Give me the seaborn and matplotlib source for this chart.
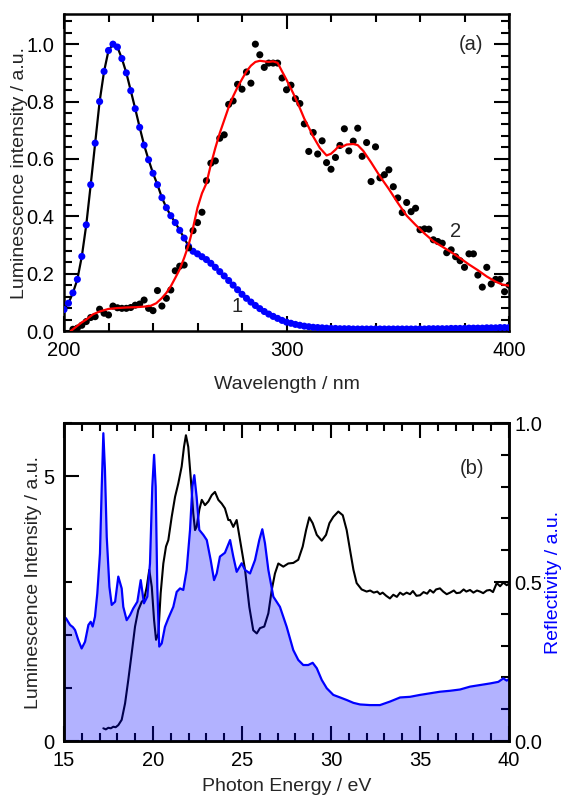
import matplotlib
matplotlib.use('Agg')
import matplotlib.pyplot as plt
from matplotlib.ticker import MultipleLocator, FormatStrFormatter
import seaborn as sns

# ---- panel (a): luminescence vs wavelength ----
wl = [200, 202, 204, 206, 208, 210, 212, 214, 216, 218,
      220, 222, 224, 226, 228, 230, 232, 234, 236, 238,
      240, 242, 244, 246, 248, 250, 252, 254, 256, 258,
      260, 262, 264, 266, 268, 270, 272, 274, 276, 278,
      280, 282, 284, 286, 288, 290, 292, 294, 296, 298,
      300, 302, 304, 306, 308, 310, 312, 314, 316, 318,
      320, 322, 324, 326, 328, 330, 332, 334, 336, 338,
      340, 342, 344, 346, 348, 350, 352, 354, 356, 358,
      360, 362, 364, 366, 368, 370, 372, 374, 376, 378,
      380, 382, 384, 386, 388, 390, 392, 394, 396, 398, 400]

curve1 = [0.075, 0.097, 0.133, 0.18, 0.26, 0.37, 0.51, 0.655, 0.80, 0.905,
          0.978, 1.0, 0.99, 0.95, 0.90, 0.838, 0.775, 0.71, 0.648, 0.597,
          0.55, 0.51, 0.465, 0.43, 0.402, 0.378, 0.351, 0.324, 0.295, 0.278,
          0.269, 0.259, 0.249, 0.236, 0.222, 0.207, 0.192, 0.176, 0.16, 0.144,
          0.128, 0.114, 0.101, 0.089, 0.078, 0.068, 0.059, 0.051, 0.044, 0.037,
          0.031, 0.027, 0.023, 0.02, 0.017, 0.015, 0.013, 0.012, 0.011, 0.010,
          0.009, 0.009, 0.008, 0.008, 0.008, 0.007, 0.007, 0.007, 0.007, 0.007,
          0.007, 0.007, 0.007, 0.007, 0.007, 0.007, 0.007, 0.007, 0.007, 0.007,
          0.007, 0.007, 0.008, 0.008, 0.008, 0.008, 0.008, 0.009, 0.009, 0.009,
          0.009, 0.010, 0.010, 0.010, 0.010, 0.011, 0.011, 0.011, 0.012, 0.012, 0.012]

wl2 = wl[2:]
curve2 = [0.006, 0.01, 0.02, 0.033, 0.047, 0.05, 0.076, 0.062,
          0.056, 0.087, 0.081, 0.079, 0.079, 0.082, 0.09, 0.094, 0.108, 0.079,
          0.071, 0.141, 0.087, 0.114, 0.143, 0.21, 0.226, 0.23, 0.29, 0.35,
          0.378, 0.414, 0.524, 0.585, 0.593, 0.672, 0.684, 0.79, 0.802, 0.86,
          0.843, 0.903, 0.864, 1.0, 0.963, 0.919, 0.934, 0.934, 0.934, 0.882,
          0.841, 0.857, 0.81, 0.793, 0.722, 0.626, 0.692, 0.617, 0.663, 0.587,
          0.564, 0.605, 0.647, 0.705, 0.628, 0.662, 0.707, 0.609, 0.657, 0.521,
          0.642, 0.534, 0.545, 0.562, 0.503, 0.464, 0.413, 0.448, 0.416, 0.428,
          0.353, 0.356, 0.355, 0.318, 0.312, 0.306, 0.273, 0.283, 0.259, 0.245,
          0.222, 0.269, 0.269, 0.195, 0.153, 0.222, 0.164, 0.18, 0.18, 0.137, 0.16]

fit2_wl = [203, 206, 208, 210, 213, 216, 220, 224, 228, 232, 236, 239, 241.5,
           244, 246, 248, 250, 252, 254, 256, 258, 260, 262, 264, 266, 268,
           270, 272, 274, 276, 278, 280, 282, 284, 286, 288, 290, 292, 294,
           296, 298, 300, 303, 306, 308, 310, 312, 315, 318, 320, 322, 323.5,
           325, 327, 330, 332, 334.5, 338, 342, 346, 350, 354, 358, 362, 366,
           370, 374, 378, 382, 386, 390, 394, 397, 400]
fit2 = [0.0, 0.018, 0.03, 0.04, 0.058, 0.068, 0.077, 0.08, 0.082, 0.083, 0.085,
        0.088, 0.097, 0.115, 0.133, 0.156, 0.185, 0.215, 0.255, 0.3, 0.36,
        0.43, 0.48, 0.515, 0.58, 0.638, 0.69, 0.735, 0.78, 0.818, 0.85, 0.878,
        0.905, 0.925, 0.938, 0.942, 0.94, 0.938, 0.94, 0.935, 0.905, 0.876,
        0.829, 0.777, 0.74, 0.71, 0.678, 0.638, 0.612, 0.618, 0.632, 0.645,
        0.642, 0.65, 0.652, 0.648, 0.628, 0.588, 0.539, 0.495, 0.447, 0.402,
        0.37, 0.34, 0.313, 0.294, 0.275, 0.254, 0.232, 0.212, 0.19, 0.172,
        0.162, 0.158]

# ---- panel (b): excitation spectrum and reflectivity ----
refl_e = [15.0, 15.11, 15.34, 15.5, 15.62, 15.8, 15.99, 16.18, 16.37, 16.5,
          16.61, 16.74, 16.87, 17.02, 17.12, 17.21, 17.3, 17.4, 17.55, 17.68,
          17.87, 18.05, 18.24, 18.33, 18.52, 18.71, 18.89, 19.12, 19.31, 19.49,
          19.68, 19.83, 19.96, 20.06, 20.15, 20.24, 20.35, 20.49, 20.67, 20.86,
          21.14, 21.33, 21.52, 21.7, 21.89, 22.08, 22.21, 22.32, 22.45, 22.6,
          22.83, 23.02, 23.24, 23.43, 23.58, 23.76, 24.04, 24.33, 24.51, 24.7,
          24.98, 25.17, 25.45, 25.73, 25.97, 26.14, 26.29, 26.48, 26.76, 27.13,
          27.51, 27.88, 28.16, 28.44, 28.72, 28.97, 29.2, 29.48, 29.76, 30.13,
          30.51, 30.88, 31.26, 31.63, 32.19, 32.75, 33.31, 33.88, 34.44, 35.0,
          35.56, 36.12, 36.69, 37.25, 37.81, 38.37, 38.93, 39.4, 39.68, 39.87, 40.0]
refl = [0.39, 0.386, 0.365, 0.358, 0.349, 0.318, 0.291, 0.312, 0.365, 0.375,
        0.36, 0.391, 0.464, 0.59, 0.8, 0.968, 0.852, 0.642, 0.485, 0.428,
        0.438, 0.517, 0.48, 0.422, 0.38, 0.396, 0.417, 0.438, 0.506, 0.433,
        0.454, 0.559, 0.8, 0.9, 0.8, 0.485, 0.297, 0.307, 0.359, 0.386,
        0.422, 0.469, 0.48, 0.475, 0.538, 0.664, 0.8, 0.836, 0.768, 0.664,
        0.648, 0.632, 0.569, 0.506, 0.527, 0.58, 0.592, 0.632, 0.58, 0.532,
        0.559, 0.538, 0.527, 0.569, 0.632, 0.666, 0.622, 0.538, 0.454, 0.422,
        0.359, 0.286, 0.255, 0.239, 0.239, 0.246, 0.229, 0.192, 0.166, 0.145,
        0.137, 0.129, 0.12, 0.115, 0.113, 0.113, 0.124, 0.137, 0.139, 0.145,
        0.15, 0.155, 0.158, 0.162, 0.171, 0.176, 0.181, 0.186, 0.197, 0.19, 0.195]

lum_e = [17.21, 17.35, 17.49, 17.63, 17.77, 17.9, 18.05, 18.24, 18.43, 18.61,
         18.8, 18.99, 19.17, 19.37, 19.49, 19.65, 19.79, 19.93, 20.06, 20.17,
         20.3, 20.43, 20.58, 20.73, 20.86, 21.05, 21.24, 21.42, 21.61, 21.74,
         21.85, 21.98, 22.13, 22.26, 22.36, 22.45, 22.6, 22.74, 22.92, 23.11,
         23.3, 23.48, 23.67, 23.86, 24.04, 24.23, 24.33, 24.51, 24.7, 24.89,
         25.17, 25.41, 25.63, 25.83, 26.01, 26.25, 26.48, 26.67, 26.85, 27.04,
         27.32, 27.6, 27.88, 28.16, 28.41, 28.6, 28.78, 28.97, 29.2, 29.48,
         29.72, 29.91, 30.13, 30.41, 30.66, 30.88, 31.07, 31.26, 31.44, 31.72,
         32.0, 32.2, 32.4, 32.6, 32.75, 32.9, 33.1, 33.31, 33.5, 33.7,
         33.88, 34.05, 34.25, 34.44, 34.6, 34.8, 35.0, 35.2, 35.4, 35.56,
         35.75, 35.9, 36.12, 36.3, 36.5, 36.69, 36.9, 37.05, 37.25, 37.45,
         37.6, 37.81, 38.0, 38.2, 38.37, 38.55, 38.75, 38.93, 39.1, 39.31,
         39.5, 39.68, 39.87, 40.0]
lum = [0.24, 0.22, 0.25, 0.24, 0.27, 0.26, 0.3, 0.4, 0.71, 1.15,
       1.65, 2.16, 2.47, 2.63, 2.66, 2.91, 3.23, 2.91, 2.28, 1.91,
       2.03, 2.79, 3.35, 3.67, 3.79, 4.23, 4.61, 4.86, 5.18, 5.55,
       5.77, 5.55, 4.92, 4.3, 3.98, 4.04, 4.36, 4.55, 4.45, 4.52,
       4.64, 4.7, 4.55, 4.48, 4.39, 4.17, 4.17, 4.04, 4.17, 3.79,
       3.23, 2.53, 2.09, 2.03, 2.13, 2.16, 2.41, 2.85, 3.16, 3.35,
       3.29, 3.35, 3.36, 3.42, 3.67, 3.98, 4.22, 4.11, 3.89, 3.78,
       3.89, 4.11, 4.23, 4.33, 4.26, 3.98, 3.6, 3.23, 2.98, 2.86,
       2.82, 2.84, 2.8, 2.82, 2.77, 2.8, 2.74, 2.69, 2.76, 2.72,
       2.8, 2.76, 2.8, 2.77, 2.83, 2.74, 2.75, 2.81, 2.78, 2.85,
       2.8, 2.86, 2.88, 2.82, 2.77, 2.8, 2.84, 2.79, 2.8, 2.86,
       2.82, 2.85, 2.8, 2.84, 2.82, 2.79, 2.84, 2.85, 2.81, 2.98,
       2.92, 2.99, 2.94, 2.97]

sns.set_style('ticks')
plt.rcParams['font.family'] = ['Liberation Sans', 'DejaVu Sans']

fig = plt.figure(figsize=(5.64, 7.98), dpi=100)
ax1 = fig.add_axes([0.1135, 0.5852, 0.789, 0.3972])
ax2 = fig.add_axes([0.1135, 0.0714, 0.789, 0.3985])


def style_ax(ax):
    for s in ax.spines.values():
        s.set_linewidth(1.8)
        s.set_color('black')
    ax.tick_params(which='both', direction='in', width=1.5, colors='black',
                   labelsize=14.5, pad=7)
    ax.tick_params(which='major', length=11)
    ax.tick_params(which='minor', length=5.5)


# panel (a)
sns.lineplot(x=wl, y=curve1, color='black', lw=1.6, ax=ax1)
sns.scatterplot(x=wl, y=curve1, color='blue', s=26, edgecolor='none', ax=ax1, zorder=3)
sns.scatterplot(x=wl2, y=curve2, color='black', s=26, edgecolor='none', ax=ax1, zorder=3)
sns.lineplot(x=fit2_wl, y=fit2, color='red', lw=1.6, ax=ax1, zorder=4)

ax1.set_xlim(200, 400)
ax1.set_ylim(0, 1.105)
ax1.xaxis.set_major_locator(MultipleLocator(100))
ax1.xaxis.set_minor_locator(MultipleLocator(20))
ax1.yaxis.set_major_locator(MultipleLocator(0.2))
ax1.yaxis.set_minor_locator(MultipleLocator(0.04))
ax1.yaxis.set_major_formatter(FormatStrFormatter('%.1f'))
style_ax(ax1)
ax1.tick_params(which='both', top=True, right=True)
ax1.set_xlabel('Wavelength / nm', fontsize=14, labelpad=12)
ax1.set_ylabel('Luminescence intensity / a.u.', fontsize=14, labelpad=-1)
ax1.text(277.7, 0.085, '1', ha='center', va='center', fontsize=14.5)
ax1.text(376.2, 0.347, '2', ha='center', va='center', fontsize=14.5)
ax1.text(383, 1.0, '(a)', ha='center', va='center', fontsize=14.5)

# panel (b)
sns.lineplot(x=lum_e, y=lum, color='black', lw=1.5, ax=ax2)
ax2.set_xlim(15, 40)
ax2.set_ylim(0, 6)
ax2.xaxis.set_major_locator(MultipleLocator(5))
ax2.xaxis.set_minor_locator(MultipleLocator(1))
ax2.yaxis.set_major_locator(MultipleLocator(5))
ax2.yaxis.set_minor_locator(MultipleLocator(1))
style_ax(ax2)
ax2.tick_params(which='both', top=True)
ax2.set_xlabel('Photon Energy / eV', fontsize=14, labelpad=6)
ax2.set_ylabel('Luminescence Intensity / a.u.', fontsize=14, labelpad=1)

ax2r = ax2.twinx()
ax2r.fill_between(refl_e, 0, refl, color='blue', alpha=0.3, lw=0)
sns.lineplot(x=refl_e, y=refl, color='blue', lw=1.6, ax=ax2r)
ax2r.set_ylim(0, 1.0)
ax2r.yaxis.set_major_locator(MultipleLocator(0.5))
ax2r.yaxis.set_minor_locator(MultipleLocator(0.1))
ax2r.yaxis.set_major_formatter(FormatStrFormatter('%.1f'))
style_ax(ax2r)
ax2r.tick_params(axis='y', pad=4)
ax2r.set_ylabel('Reflectivity / a.u.', fontsize=14, color='blue', labelpad=2)
ax2r.text(37.9, 0.856, '(b)', ha='center', va='center', fontsize=14.5)

fig.savefig('out.png', dpi=100)
